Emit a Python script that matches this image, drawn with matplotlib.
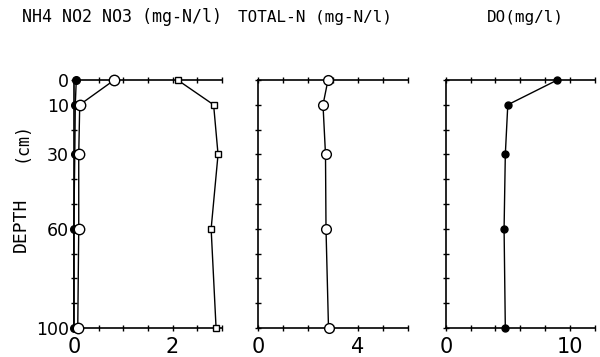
import matplotlib
matplotlib.use("Agg")
import matplotlib.pyplot as plt

# Depth of each sample (cm)
depth = [0, 10, 30, 60, 100]

# Nitrogen species (mg-N/l)
nh4 = [0.05, 0.03, 0.02, 0.0, 0.0]
no2 = [0.82, 0.12, 0.1, 0.1, 0.08]
no3 = [2.1, 2.83, 2.92, 2.78, 2.88]

# Total nitrogen (mg-N/l)
total_n = [2.8, 2.6, 2.7, 2.72, 2.82]

# Dissolved oxygen (mg/l)
do = [9.0, 5.0, 4.8, 4.7, 4.8]

depth_ticks = list(range(0, 101, 10))
depth_labels = ["0", "10", "", "30", "", "", "60", "", "", "", "100"]


def style_panel(ax, xmax, xstep, xlabels, show_y):
    ax.set_ylim(100, 0)
    ax.set_xlim(0, xmax)
    ax.spines["right"].set_visible(False)
    for s in ["left", "top", "bottom"]:
        ax.spines[s].set_linewidth(1.2)
    n = int(round(xmax / xstep)) + 1
    xt = [i * xstep for i in range(n)]
    ax.set_xticks(xt)
    ax.set_xticklabels([xlabels.get(round(v, 2), "") for v in xt], fontsize=15)
    ax.set_yticks(depth_ticks)
    if show_y:
        ax.set_yticklabels(depth_labels, fontsize=12.5)
    else:
        ax.set_yticklabels([])
    ax.tick_params(axis="x", direction="inout", length=5, width=1,
                   top=True, bottom=True, pad=4)
    ax.tick_params(axis="y", direction="inout", length=5, width=1,
                   left=True, right=False, pad=1)


fig = plt.figure(figsize=(6.0, 3.57), dpi=100)

ax1 = fig.add_axes([0.123, 0.081, 0.247, 0.695])
ax2 = fig.add_axes([0.430, 0.081, 0.250, 0.695])
ax3 = fig.add_axes([0.743, 0.081, 0.248, 0.695])

ax1.plot(nh4, depth, "-o", color="black", lw=1, ms=5.5,
         mfc="black", clip_on=False, zorder=3)
ax1.plot(no2, depth, "-o", color="black", lw=1, ms=7.5,
         mfc="white", clip_on=False, zorder=4)
ax1.plot(no3, depth, "-s", color="black", lw=1, ms=5,
         mfc="white", clip_on=False, zorder=4)
style_panel(ax1, 3.0, 0.5, {0: "0", 2.0: "2"}, True)

ax2.plot(total_n, depth, "-o", color="black", lw=1, ms=7,
         mfc="white", clip_on=False, zorder=4)
style_panel(ax2, 6.0, 1.0, {0: "0", 4.0: "4"}, False)

ax3.plot(do, depth, "-o", color="black", lw=1, ms=5,
         mfc="black", clip_on=False, zorder=4)
style_panel(ax3, 12.0, 2.0, {0: "0", 10.0: "10"}, False)

# Rotated depth label, two parts as in the original
fig.text(0.035, 1 - 225 / 357, "DEPTH", rotation=90, ha="center",
         va="center", fontsize=13, family="DejaVu Sans Mono")
fig.text(0.035, 1 - 142 / 357, "(cm)", rotation=90, ha="center",
         va="center", fontsize=12, family="DejaVu Sans Mono")

fig.text(0.037, 0.952, "NH4 NO2 NO3 (mg-N/l)", fontsize=12,
         family="DejaVu Sans Mono", va="center")
fig.text(0.397, 0.952, "TOTAL-N (mg-N/l)", fontsize=11.5,
         family="DejaVu Sans Mono", va="center")
fig.text(0.812, 0.952, "DO(mg/l)", fontsize=11.5,
         family="DejaVu Sans Mono", va="center")

fig.savefig("out.png", dpi=100)
